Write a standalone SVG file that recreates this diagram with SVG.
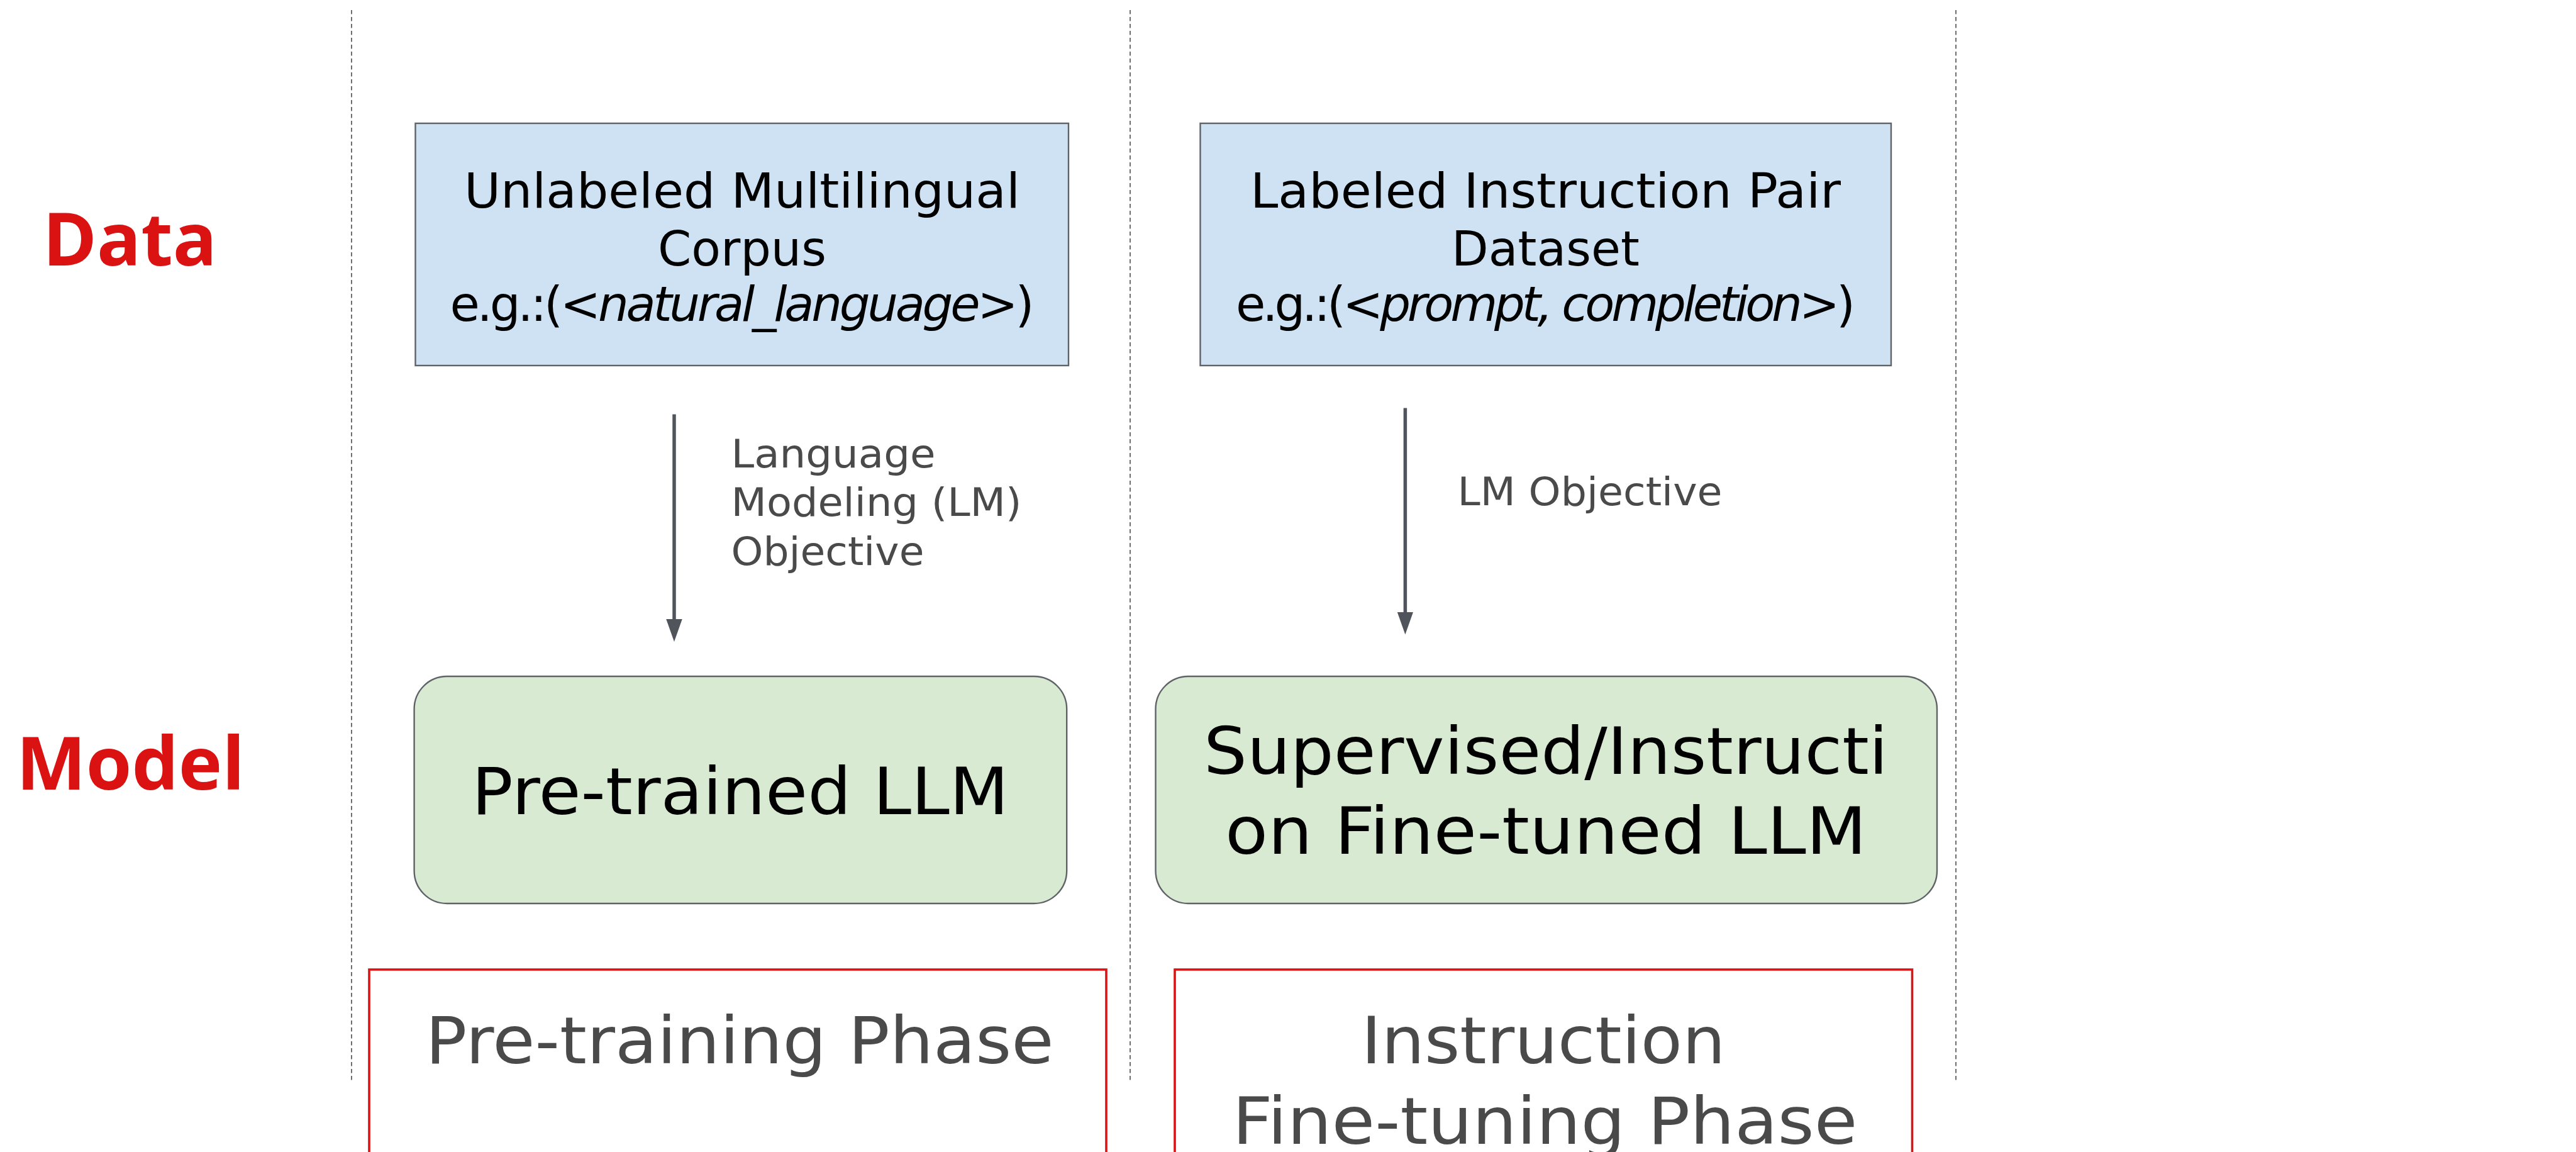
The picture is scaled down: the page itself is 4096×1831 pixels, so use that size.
<svg xmlns="http://www.w3.org/2000/svg" width="4096" height="1831" viewBox="0 0 4096 1831">
  <style>
    .bg { fill: #ffffff; }
    .divider { stroke: #5f5f5f; stroke-width: 1.8; stroke-dasharray: 6.5 4.5; fill: none; }
    .data { fill: #cfe2f3; stroke: #5f6368; stroke-width: 2.4; }
    .model { fill: #d9ead3; stroke: #5f6368; stroke-width: 2.4; }
    .phase { fill: none; stroke: #da1414; stroke-width: 3.6; }
    .flow { stroke: #50545b; stroke-width: 5.5; fill: none; }
    .row { font-family: "Open Sans", "DejaVu Sans", sans-serif; font-weight: 700; font-size: 116px; fill: #da1212; }
    .t-data { font-family: "DejaVu Sans", "Noto Sans", sans-serif; font-size: 77px; fill: #000000; text-anchor: middle; }
    .t-model { font-family: "DejaVu Sans", "Noto Sans", sans-serif; font-size: 103px; fill: #000000; text-anchor: middle; }
    .t-phase { font-family: "DejaVu Sans", "Noto Sans", sans-serif; font-size: 103px; fill: #4a4a4a; text-anchor: middle; }
    .t-edge { font-family: "DejaVu Sans", "Noto Sans", sans-serif; font-size: 62px; fill: #4a4a4a; }
    .it { font-style: italic; }
  </style>
  <defs>
    <marker id="head" markerUnits="userSpaceOnUse" markerWidth="37" markerHeight="26" refX="1" refY="12.75" orient="auto">
      <path d="M0,0 L36,12.75 L0,25.5 Z" fill="#50545b"/>
    </marker>
  </defs>

  <rect class="bg" x="0" y="0" width="4096" height="1831"/>

  <!-- column dividers -->
  <g id="dividers">
    <line class="divider" x1="559" y1="16" x2="559" y2="1719"/>
    <line class="divider" x1="1797" y1="16" x2="1797" y2="1719"/>
    <line class="divider" x1="3110" y1="16" x2="3110" y2="1719"/>
  </g>

  <!-- row headings -->
  <g id="row-data">
    <text class="row" x="68" y="422" textLength="277" lengthAdjust="spacingAndGlyphs">Data</text>
  </g>
  <g id="row-model">
    <text class="row" x="26" y="1254.5" textLength="363" lengthAdjust="spacingAndGlyphs">Model</text>
  </g>

  <!-- data sources -->
  <g id="corpus">
    <rect class="data" x="660.5" y="196" width="1038.5" height="385"/>
    <text class="t-data" x="1180" y="329.5" textLength="884" lengthAdjust="spacingAndGlyphs">Unlabeled Multilingual</text>
    <text class="t-data" x="1180" y="421.8" textLength="268" lengthAdjust="spacingAndGlyphs">Corpus</text>
    <text class="t-data" x="1180" y="510" textLength="929">e.g.:(&lt;<tspan class="it">natural_language</tspan>&gt;)</text>
  </g>
  <g id="instruction-data">
    <rect class="data" x="1908.5" y="196" width="1098.5" height="385"/>
    <text class="t-data" x="2457.5" y="329.5" textLength="939" lengthAdjust="spacingAndGlyphs">Labeled Instruction Pair</text>
    <text class="t-data" x="2457.5" y="421.8" textLength="299" lengthAdjust="spacingAndGlyphs">Dataset</text>
    <text class="t-data" x="2457.5" y="510" textLength="985">e.g.:(&lt;<tspan class="it">prompt, completion</tspan>&gt;)</text>
  </g>

  <!-- models -->
  <g id="pretrained-llm">
    <rect class="model" x="658.6" y="1075" width="1037.6" height="361" rx="52" ry="52"/>
    <text class="t-model" x="1177" y="1293.6" textLength="854" lengthAdjust="spacingAndGlyphs">Pre-trained LLM</text>
  </g>
  <g id="sft-llm">
    <rect class="model" x="1837.5" y="1075" width="1242.5" height="361" rx="52" ry="52"/>
    <text class="t-model" x="2458" y="1230" textLength="1088" lengthAdjust="spacingAndGlyphs">Supervised/Instructi</text>
    <text class="t-model" x="2458" y="1357.4" textLength="1020" lengthAdjust="spacingAndGlyphs">on Fine-tuned LLM</text>
  </g>

  <!-- phases -->
  <g id="pretraining-phase">
    <rect class="phase" x="587" y="1541" width="1172" height="400"/>
    <text class="t-phase" x="1176" y="1690" textLength="999" lengthAdjust="spacingAndGlyphs">Pre-training Phase</text>
  </g>
  <g id="finetuning-phase">
    <rect class="phase" x="1868" y="1541" width="1172.5" height="400"/>
    <text class="t-phase" x="2454" y="1690" textLength="579" lengthAdjust="spacingAndGlyphs">Instruction</text>
    <text class="t-phase" x="2456.5" y="1818" textLength="994" lengthAdjust="spacingAndGlyphs">Fine-tuning Phase</text>
  </g>

  <!-- connectors -->
  <g id="connectors">
    <line class="flow" x1="1072" y1="658.6" x2="1072" y2="985" marker-end="url(#head)"/>
    <text class="t-edge" x="1162.5" y="742.5" textLength="325" lengthAdjust="spacingAndGlyphs">Language</text>
    <text class="t-edge" x="1162.5" y="820" textLength="462" lengthAdjust="spacingAndGlyphs">Modeling (LM)</text>
    <text class="t-edge" x="1162.5" y="897.5" textLength="307" lengthAdjust="spacingAndGlyphs">Objective</text>

    <line class="flow" x1="2234.4" y1="648.6" x2="2234.4" y2="973.5" marker-end="url(#head)"/>
    <text class="t-edge" x="2317.6" y="803" textLength="421" lengthAdjust="spacingAndGlyphs">LM Objective</text>
  </g>
</svg>
